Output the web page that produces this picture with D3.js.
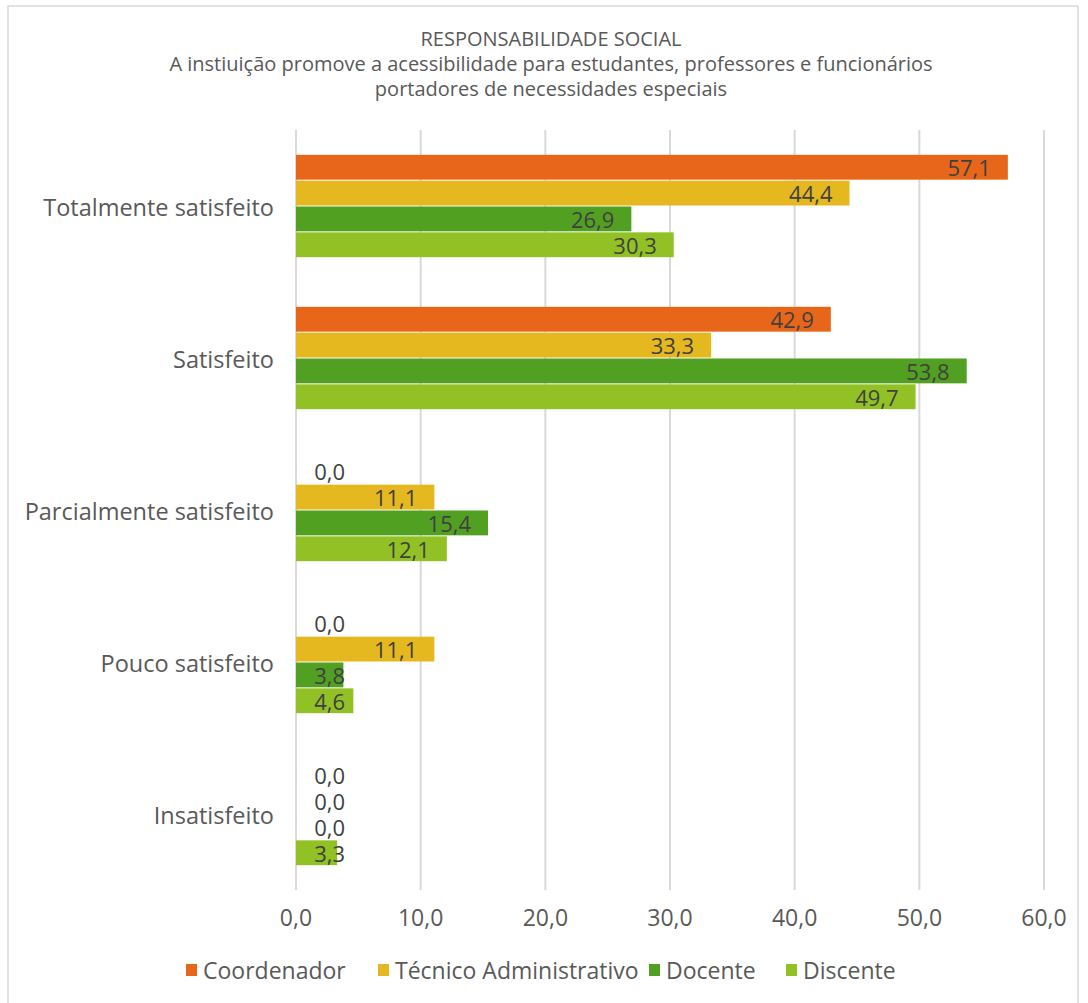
<!DOCTYPE html>
<html>
<head>
<meta charset="utf-8">
<script src="https://cdn.jsdelivr.net/npm/d3@7"></script>
<style>
  body { margin: 0; background: #fff; }
  text { font-family: "Open Sans", "DejaVu Sans", sans-serif; }
</style>
</head>
<body>
<div id="chart"></div>
<script>
// data
var categories = ["Totalmente satisfeito", "Satisfeito", "Parcialmente satisfeito", "Pouco satisfeito", "Insatisfeito"];
var seriesNames = ["Coordenador", "Técnico Administrativo", "Docente", "Discente"];
var coordenador = [57.1, 42.9, 0.0, 0.0, 0.0];
var tecnico = [44.4, 33.3, 11.1, 11.1, 0.0];
var docente = [26.9, 53.8, 15.4, 3.8, 0.0];
var discente = [30.3, 49.7, 12.1, 4.6, 3.3];
var xTicks = [0, 10, 20, 30, 40, 50, 60];
var colors = ["#E8661A", "#E6B820", "#52A022", "#92C126"];
var titleLines = ["RESPONSABILIDADE SOCIAL",
  "A instiuição promove a acessibilidade para estudantes, professores e funcionários",
  "portadores de necessidades especiais"];

var allSeries = [coordenador, tecnico, docente, discente];

var W = 1088, H = 1003;
var margin = {top: 130, right: 44, bottom: 113, left: 296};

var svg = d3.select("#chart").append("svg")
    .attr("width", W).attr("height", H);

// chart frame
svg.append("rect")
    .attr("x", 8).attr("y", 6)
    .attr("width", 1070).attr("height", 1010)
    .attr("fill", "none").attr("stroke", "#d9d9d9").attr("stroke-width", 1.5);

var x = d3.scaleLinear().domain([0, 60]).range([margin.left, W - margin.right]);
var y = d3.scaleBand().domain(categories).range([margin.top, H - margin.bottom]).paddingInner(0.32).paddingOuter(0.16);
var yInner = d3.scaleBand().domain(seriesNames).range([0, y.bandwidth()]);

// title
svg.append("g").selectAll("text")
    .data(titleLines).enter().append("text")
    .attr("x", 551).attr("y", (d, i) => 46 + i * 25)
    .attr("text-anchor", "middle")
    .style("font-size", "20px").style("fill", "#595959")
    .text(d => d);

// gridlines
svg.append("g").selectAll("line")
    .data(xTicks).enter().append("line")
    .attr("x1", d => x(d)).attr("x2", d => x(d))
    .attr("y1", margin.top).attr("y2", H - margin.bottom)
    .attr("stroke", "#d9d9d9").attr("stroke-width", 2);

// x tick labels
svg.append("g").selectAll("text")
    .data(xTicks).enter().append("text")
    .attr("x", d => x(d)).attr("y", 926)
    .attr("text-anchor", "middle")
    .style("font-size", "23px").style("fill", "#595959")
    .text(d => d3.format(".1f")(d).replace(".", ","));

// category labels
svg.append("g").selectAll("text")
    .data(categories).enter().append("text")
    .attr("x", 274).attr("y", d => y(d) + y.bandwidth() / 2 + 1)
    .attr("text-anchor", "end").attr("dominant-baseline", "central")
    .style("font-size", "23.5px").style("fill", "#595959")
    .text(d => d);

// bars
var rows = [];
categories.forEach(function(c, ci) {
  seriesNames.forEach(function(s, si) {
    rows.push({cat: c, series: s, si: si, value: allSeries[si][ci]});
  });
});

svg.append("g").selectAll("rect")
    .data(rows).enter().append("rect")
    .attr("x", x(0))
    .attr("y", d => y(d.cat) + yInner(d.series) + 0.5)
    .attr("width", d => x(d.value) - x(0))
    .attr("height", yInner.bandwidth() - 1)
    .attr("fill", d => colors[d.si]);

// data labels
svg.append("g").selectAll("text")
    .data(rows).enter().append("text")
    .attr("x", d => Math.max(x(d.value) - 17, x(0) + 49))
    .attr("y", d => y(d.cat) + yInner(d.series) + yInner.bandwidth() / 2)
    .attr("text-anchor", "end").attr("dominant-baseline", "central")
    .style("font-size", "22px").style("fill", "#404040")
    .text(d => d3.format(".1f")(d.value).replace(".", ","));

// legend
var legendX = [186, 378, 649, 786];
var legend = svg.append("g").selectAll("g")
    .data(seriesNames).enter().append("g")
    .attr("transform", (d, i) => "translate(" + legendX[i] + ",970)");
legend.append("rect")
    .attr("x", 0).attr("y", -6).attr("width", 11).attr("height", 12)
    .attr("fill", (d, i) => colors[i]);
legend.append("text")
    .attr("x", 17).attr("y", 0)
    .attr("dominant-baseline", "central")
    .style("font-size", "23px").style("fill", "#595959")
    .text(d => d);
</script>
</body>
</html>
